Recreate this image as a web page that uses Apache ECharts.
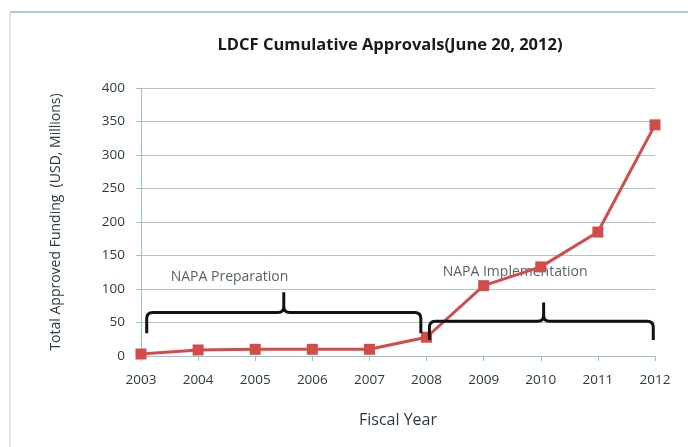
<!DOCTYPE html>
<html><head><meta charset="utf-8">
<script src="https://cdn.jsdelivr.net/npm/echarts@6/dist/echarts.min.js"></script>
<style>html,body{margin:0;padding:0;background:#fff}#c{width:688px;height:447px}</style>
</head><body><div id="c"></div>
<script>
const years = [2003, 2004, 2005, 2006, 2007, 2008, 2009, 2010, 2011, 2012];
const approvals = [3, 9, 10, 10, 10, 28, 105, 133, 185, 345];
const yTicks = [0, 50, 100, 150, 200, 250, 300, 350, 400];
// braces: [xStart, xEnd, xTip, yBar, yEnd, yTip]
const braces = [
  [2003.1, 2007.9, 2005.5, 65, 34, 95],
  [2008.05, 2011.97, 2010.05, 52, 24, 80]
];
const braceLabels = [
  {text: 'NAPA Preparation', x: 2004.55, y: 118},
  {text: 'NAPA Implementation', x: 2009.55, y: 125}
];

const font = '"Open Sans", Lato, sans-serif';
const txt = '#2a3a44';
const chart = echarts.init(document.getElementById('c'));
chart.setOption({
  animation: false,
  backgroundColor: '#fff',
  title: {
    text: 'LDCF Cumulative Approvals(June 20, 2012)',
    left: 385, textAlign: 'center', top: 32,
    textStyle: {fontFamily: font, fontSize: 16.5, fontWeight: 'bold', color: '#1a1a1a'}
  },
  grid: {left: 141, right: 33, top: 88, bottom: 91},
  xAxis: {
    type: 'value', min: 2003, max: 2012, interval: 1,
    name: 'Fiscal Year', nameLocation: 'middle', nameGap: 56,
    nameTextStyle: {fontFamily: font, fontSize: 16, color: txt},
    axisLine: {show: true, lineStyle: {color: '#9dbcd0', width: 1}},
    axisTick: {show: true, length: 5, lineStyle: {color: '#9dbcd0'}},
    axisLabel: {fontFamily: font, fontSize: 13.5, color: txt, margin: 17, formatter: v => String(v)},
    splitLine: {show: false}
  },
  yAxis: {
    type: 'value', min: 0, max: 400, interval: 50,
    name: 'Total Approved Funding  (USD, Millions)', nameLocation: 'middle', nameGap: 78,
    nameRotate: 90,
    nameTextStyle: {fontFamily: font, fontSize: 14, color: txt},
    axisLine: {show: true, lineStyle: {color: '#9dbcd0', width: 1}},
    axisTick: {show: true, length: 5, lineStyle: {color: '#9dbcd0'}},
    axisLabel: {fontFamily: font, fontSize: 13.5, color: txt, margin: 16,
      formatter: v => yTicks.includes(v) ? String(v) : ''},
    splitLine: {show: true, lineStyle: {color: '#a8c6d8', width: 1}}
  },
  graphic: [
    {type: 'line', shape: {x1: 10, y1: 12, x2: 688, y2: 12}, style: {stroke: '#a9cde0', lineWidth: 2}},
    {type: 'line', shape: {x1: 10, y1: 12, x2: 10, y2: 447}, style: {stroke: '#d8dde2', lineWidth: 1.5}}
  ],
  series: [
    {
      type: 'line',
      data: years.map((y, i) => [y, approvals[i]]),
      symbol: 'rect', symbolSize: 11,
      lineStyle: {color: '#d24c4a', width: 3},
      itemStyle: {color: '#d24c4a'},
      z: 3
    },
    {
      type: 'custom',
      data: braces,
      renderItem: function (params, api) {
        const a = api.coord([api.value(0), api.value(3)]);
        const b = api.coord([api.value(1), api.value(3)]);
        const t = api.coord([api.value(2), api.value(5)]);
        const e = api.coord([api.value(0), api.value(4)]);
        const xl = a[0], xr = b[0], xm = t[0], yb = a[1], ye = e[1], yt = t[1];
        const r = 6;
        const d = `M${xl},${ye} L${xl},${yb + r} Q${xl},${yb} ${xl + r},${yb} L${xm - r},${yb} Q${xm},${yb} ${xm},${yb - r} L${xm},${yt} M${xm},${yb - r} Q${xm},${yb} ${xm + r},${yb} L${xr - r},${yb} Q${xr},${yb} ${xr},${yb + r} L${xr},${ye}`;
        return {type: 'path', shape: {pathData: d}, style: {stroke: '#111', lineWidth: 3, fill: null}};
      },
      z: 4
    },
    {
      type: 'scatter',
      data: braceLabels.map(l => ({value: [l.x, l.y], name: l.text})),
      symbolSize: 0,
      label: {show: true, position: 'inside', formatter: p => p.name,
        fontFamily: font, fontSize: 14, color: txt},
      z: 2
    }
  ]
});
</script></body></html>
